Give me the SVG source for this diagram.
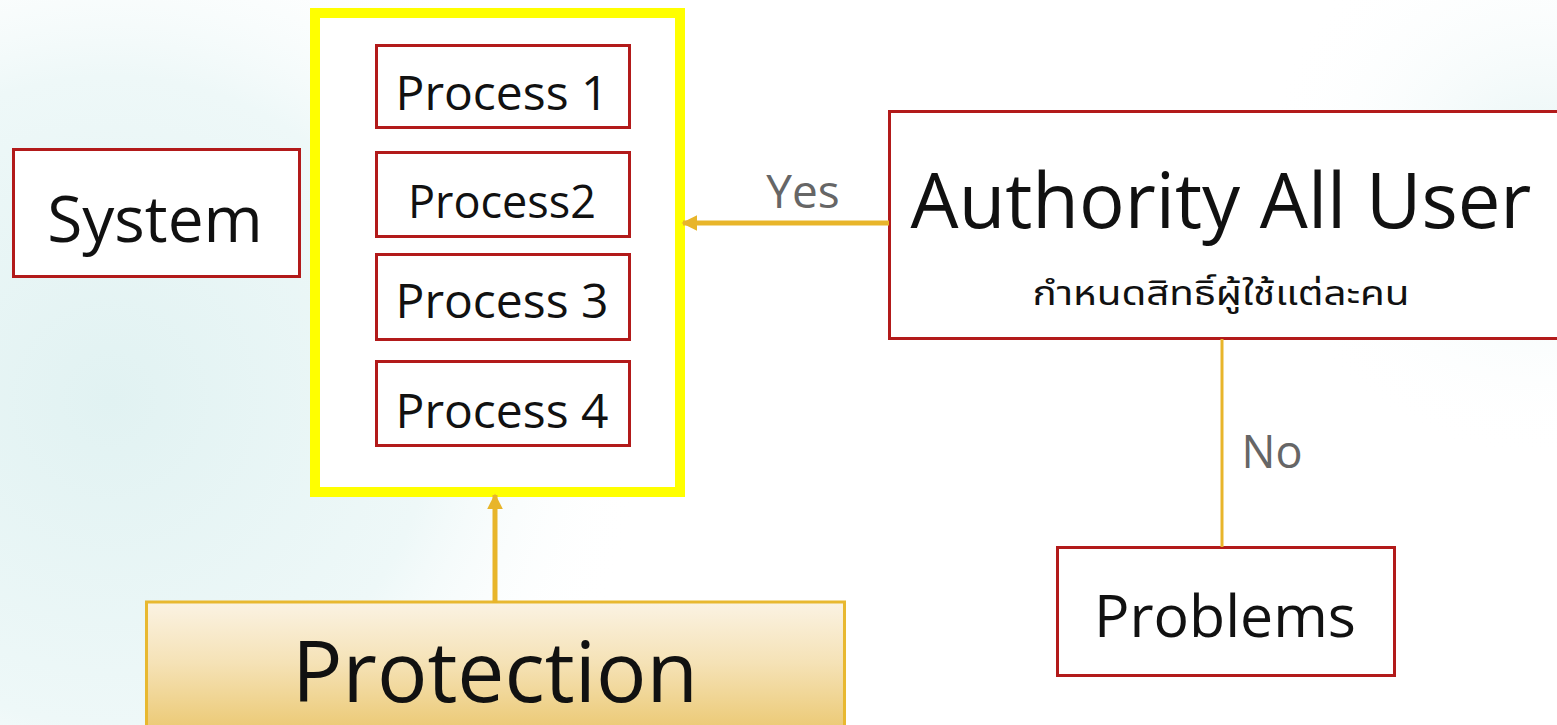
<svg xmlns="http://www.w3.org/2000/svg" width="1557" height="725" viewBox="0 0 1557 725">
  <defs>
    <radialGradient id="bgL" cx="110" cy="400" r="540" gradientUnits="userSpaceOnUse">
      <stop offset="0" stop-color="#e1f2f2"/>
      <stop offset="0.6" stop-color="#eef8f8"/>
      <stop offset="1" stop-color="#ffffff" stop-opacity="0"/>
    </radialGradient>
    <radialGradient id="bgR" cx="1540" cy="180" r="280" gradientUnits="userSpaceOnUse">
      <stop offset="0" stop-color="#e4f3f3"/>
      <stop offset="1" stop-color="#ffffff" stop-opacity="0"/>
    </radialGradient>
    <linearGradient id="protFill" x1="0" y1="601" x2="0" y2="725" gradientUnits="userSpaceOnUse">
      <stop offset="0" stop-color="#fbf3e4"/>
      <stop offset="0.5" stop-color="#f5e2b6"/>
      <stop offset="1" stop-color="#eccb79"/>
    </linearGradient>
    <marker id="arrow" viewBox="0 0 10 10" refX="9" refY="5" markerWidth="3.2" markerHeight="3.2" orient="auto">
      <path d="M0,0 L10,5 L0,10 Z" fill="#e8b52a"/>
    </marker>
    <style>
      .box { fill: #ffffff; stroke: #b21a1a; stroke-width: 3; }
      .t { font-family: "Open Sans", "Noto Sans", "Liberation Sans", sans-serif; fill: #111111; text-anchor: middle; }
      .lbl { font-family: "Open Sans", "Noto Sans", "Liberation Sans", sans-serif; fill: #666666; text-anchor: middle; }
      .conn { stroke: #e8b52a; fill: none; }
    </style>
  </defs>

  <rect width="1557" height="725" fill="#ffffff"/>
  <rect width="1557" height="725" fill="url(#bgL)"/>
  <rect width="1557" height="725" fill="url(#bgR)"/>

  <g id="protection-frame">
    <rect x="315" y="13" width="365" height="479" fill="#ffffff" stroke="#ffff00" stroke-width="10"/>
  </g>

  <g id="process1">
    <rect class="box" x="376.5" y="45.5" width="253" height="82"/>
    <text class="t" x="502" y="110" font-size="48">Process 1</text>
  </g>
  <g id="process2">
    <rect class="box" x="376.5" y="152.5" width="253" height="84"/>
    <text class="t" x="502" y="218" font-size="45">Process2</text>
  </g>
  <g id="process3">
    <rect class="box" x="376.5" y="254.5" width="253" height="85"/>
    <text class="t" x="502" y="318" font-size="48">Process 3</text>
  </g>
  <g id="process4">
    <rect class="box" x="376.5" y="361.5" width="253" height="84"/>
    <text class="t" x="502" y="428" font-size="48">Process 4</text>
  </g>

  <g id="system">
    <rect class="box" x="13.5" y="149.5" width="286" height="127"/>
    <text class="t" x="155" y="242" font-size="64">System</text>
  </g>

  <g id="authority">
    <rect class="box" x="889.5" y="111.5" width="680" height="227"/>
    <text class="t" x="1221" y="228" font-size="76">Authority All User</text>
    <text class="t" x="1221" y="305" font-size="34" style="font-family: 'Noto Sans Thai', 'Noto Sans', 'DejaVu Sans', sans-serif" textLength="377" lengthAdjust="spacingAndGlyphs">กำหนดสิทธิ์ผู้ใช้แต่ละคน</text>
  </g>

  <g id="problems">
    <rect class="box" x="1057.5" y="547.5" width="337" height="128"/>
    <text class="t" x="1225" y="637" font-size="59">Problems</text>
  </g>

  <g id="protection">
    <rect x="146.5" y="602" width="698" height="130" fill="url(#protFill)" stroke="#e8b830" stroke-width="3"/>
    <text class="t" x="495" y="702" font-size="84">Protection</text>
  </g>

  <g id="connectors">
    <line class="conn" x1="889" y1="223" x2="683" y2="223" stroke-width="5" marker-end="url(#arrow)"/>
    <text class="lbl" x="803" y="208" font-size="46">Yes</text>
    <line class="conn" x1="495" y1="603" x2="495" y2="495" stroke-width="5" marker-end="url(#arrow)"/>
    <line class="conn" x1="1222" y1="339" x2="1222" y2="547" stroke-width="3"/>
    <text class="lbl" x="1272" y="468" font-size="45">No</text>
  </g>
</svg>
